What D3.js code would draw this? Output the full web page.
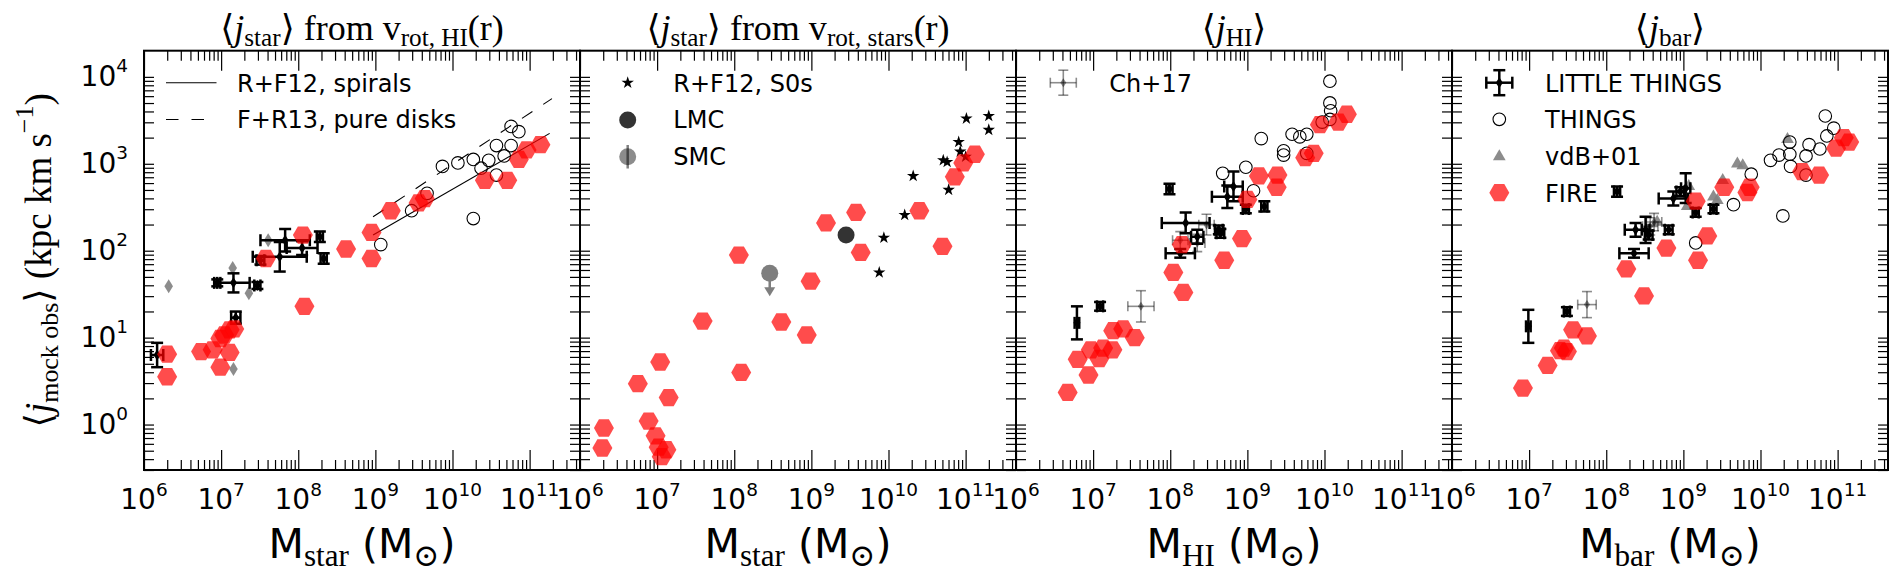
<!DOCTYPE html>
<html>
<head>
<meta charset="utf-8">
<script src="https://cdn.jsdelivr.net/npm/d3@7"></script>
<style>
  body { margin: 0; background: #fff; }
  svg { display: block; }
</style>
</head>
<body>
<script>
// values are log10(M / Msun), log10(j / kpc km s^-1); LT/Ch+17 rows add x and y errors in dex

// panel 1: <j_star> from v_rot,HI(r)
const fire1 = [[11.14,3.22],[10.96,3.16],[10.86,3.05],[10.71,2.81],[10.42,2.81],[9.64,2.60],[9.56,2.55],[9.20,2.46],
  [8.95,2.21],[8.95,1.91],[8.62,2.02],[8.06,2.18],[7.58,1.91],[8.08,1.36],[6.30,0.81],[6.30,0.55],[6.74,0.84],
  [6.89,0.86],[6.99,0.66],[7.11,0.83],[7.04,1.03],[6.99,0.99],[7.11,1.09],[7.17,1.10]];
const things1 = [[10.76,3.43],[10.86,3.37],[10.57,3.21],[10.76,3.21],[10.27,3.05],[10.47,3.04],[10.67,3.09],[10.07,3.01],
  [9.87,2.97],[10.37,2.95],[10.57,2.87],[9.67,2.66],[9.47,2.46],[10.27,2.37],[9.07,2.07]];
const vdb1 = [[7.61,2.12],[7.15,1.80],[6.32,1.59],[7.36,1.51],[7.16,0.64]];
const lt1 = [[6.17,0.80,0.08,0.14],[7.19,1.23,0.06,0.07],[7.16,1.63,0.21,0.11],[6.95,1.63,0.04,0.04],[7.47,1.60,0.04,0.04],
  [7.76,1.93,0.35,0.17],[7.51,1.89,0.05,0.05],[7.83,2.12,0.32,0.13],[8.05,2.03,0.20,0.08],[8.28,2.16,0.04,0.06],[8.33,1.91,0.04,0.06]];
const spirals = [[8.97,2.18],[11.26,3.35]];
const pureDisks = [[8.97,2.39],[11.29,3.75]];

// panel 2: <j_star> from v_rot,stars(r)
const s0s = [[11.30,3.55],[11.30,3.39],[11.01,3.52],[10.91,3.25],[10.93,3.14],[11.00,3.08],[10.71,3.04],[10.76,3.02],
  [10.32,2.86],[10.78,2.70],[10.21,2.41],[9.94,2.15],[9.88,1.75]];
const lmc = [[9.45,2.18]];
const smc = [[8.46,1.74]];
const fire2 = [[11.12,3.11],[10.97,3.01],[10.86,2.85],[10.40,2.46],[10.70,2.05],[9.58,2.44],[9.19,2.32],[9.64,1.98],
  [8.06,1.95],[8.99,1.65],[7.59,1.19],[8.61,1.18],[8.94,1.03],[8.09,0.60],[7.04,0.72],[6.75,0.47],[7.15,0.31],
  [6.31,-0.04],[6.29,-0.27],[6.89,0.04],[6.98,-0.13],[7.02,-0.26],[7.12,-0.29],[7.06,-0.37]];

// panel 3: <j_HI>
const things3 = [[10.07,3.95],[10.07,3.70],[10.08,3.61],[10.07,3.51],[9.97,3.48],[9.77,3.34],[9.68,3.31],[9.58,3.34],
  [9.47,3.15],[9.47,3.10],[9.77,3.12],[9.18,3.29],[8.98,2.96],[8.68,2.89],[9.08,2.69]];
const fire3 = [[10.29,3.57],[10.18,3.48],[9.94,3.45],[9.86,3.12],[9.75,3.07],[9.39,2.87],[9.15,2.86],[9.38,2.73],
  [9.00,2.59],[8.93,2.14],[8.70,1.89],[8.15,2.07],[8.04,1.75],[8.17,1.52],[7.26,1.08],[7.39,1.10],[7.54,1.00],
  [6.97,0.86],[7.13,0.88],[7.25,0.86],[7.08,0.76],[6.80,0.75],[6.94,0.57],[6.67,0.37]];
const lt3 = [[6.79,1.17,0.03,0.19],[7.09,1.36,0.04,0.05],[7.99,2.71,0.04,0.06],[8.20,2.32,0.31,0.12],[8.13,1.97,0.19,0.05],
  [8.35,2.16,0.08,0.08],[8.63,2.24,0.05,0.05],[8.65,2.20,0.05,0.05],[8.74,2.62,0.20,0.13],[8.82,2.74,0.12,0.17],
  [8.98,2.48,0.04,0.05],[9.22,2.51,0.04,0.06]];
const ch3 = [[8.47,2.30,0.10,0.12],[8.35,2.09,0.10,0.10],[7.62,1.36,0.17,0.18],[8.13,2.12,0.10,0.10]];

// panel 4: <j_bar>
const things4 = [[10.84,3.55],[10.95,3.41],[10.86,3.32],[10.77,3.17],[10.63,3.22],[10.59,3.09],[10.38,3.11],[10.38,3.25],
  [10.24,3.10],[10.13,3.04],[10.39,2.97],[10.59,2.87],[9.88,2.88],[9.65,2.53],[10.29,2.40],[9.16,2.09]];
const fire4 = [[11.15,3.25],[11.08,3.30],[10.98,3.18],[10.76,2.87],[10.54,2.91],[9.86,2.73],[9.83,2.67],[9.53,2.73],
  [9.16,2.57],[9.31,2.17],[9.19,1.89],[8.78,2.03],[8.26,1.79],[8.49,1.48],[7.57,1.09],[7.75,1.02],[7.45,0.88],
  [7.40,0.85],[7.49,0.84],[7.24,0.68],[6.92,0.42]];
const vdb4 = [[10.35,3.28],[9.70,3.00],[9.77,2.98],[9.51,2.81],[9.39,2.62],[9.44,2.58],[9.07,2.74],[9.05,2.51],[8.66,2.33]];
const lt4 = [[6.99,1.13,0.03,0.19],[7.49,1.30,0.04,0.05],[8.14,2.68,0.04,0.06],[8.36,1.97,0.19,0.05],[8.38,2.24,0.14,0.08],
  [8.51,2.24,0.05,0.15],[8.55,2.18,0.05,0.05],[8.81,2.24,0.05,0.05],[8.87,2.60,0.19,0.08],[9.03,2.72,0.06,0.17],
  [8.96,2.68,0.05,0.05],[9.16,2.44,0.04,0.05],[9.39,2.48,0.04,0.05]];
const ch4 = [[7.75,1.38,0.12,0.15],[8.57,2.28,0.10,0.10],[8.62,2.33,0.10,0.10]];

// axes
const xExp = [6, 7, 8, 9, 10, 11];
const yExp = [0, 1, 2, 3, 4];
const xDomain = [1e6, 4.5e11];
const yDomain = [0.3, 2e4];

// layout
const left0 = 144, panelW = 436, plotTop = 50.7, plotBottom = 470;
const sans = "'DejaVu Sans', sans-serif";
const serif = "'Liberation Serif', 'DejaVu Serif', serif";
const fireFill = "#ff0000", fireAlpha = 0.7;
const grey = "#808080";

const svg = d3.select("body").append("svg")
  .attr("width", 1903)
  .attr("height", 586)
  .attr("viewBox", [0, 0, 1903, 586]);

// text made of normal / italic / sub / sup pieces
function rich(sel, segs, size, family, ratio = 0.7) {
  let shift = 0;
  segs.forEach(([t, k, fam]) => {
    const small = k === "sub" || k === "sup";
    const target = k === "sub" ? size * 0.19 : k === "sup" ? -size * 0.48 : 0;
    sel.append("tspan")
      .attr("dy", target - shift)
      .attr("font-size", small ? size * ratio : size)
      .attr("font-family", fam || family)
      .attr("font-style", k === "i" ? "italic" : null)
      .text(t);
    shift = target;
  });
}

const hexPath = r => d3.range(6).map(i => {
  const a = i * Math.PI / 3;
  return (i ? "L" : "M") + (r * Math.cos(a)).toFixed(2) + "," + (r * Math.sin(a)).toFixed(2);
}).join("") + "Z";
const diamondPath = (w, h) => `M0,${-h}L${w},0L0,${h}L${-w},0Z`;

const panels = [
  { title: [["⟨", "n"], ["j", "i"], ["star", "sub"], ["⟩ from v", "n"], ["rot, HI", "sub"], ["(r)", "n"]], xsub: "star" },
  { title: [["⟨", "n"], ["j", "i"], ["star", "sub"], ["⟩ from v", "n"], ["rot, stars", "sub"], ["(r)", "n"]], xsub: "star" },
  { title: [["⟨", "n"], ["j", "i"], ["HI", "sub"], ["⟩", "n"]], xsub: "HI" },
  { title: [["⟨", "n"], ["j", "i"], ["bar", "sub"], ["⟩", "n"]], xsub: "bar" }
];

const y = d3.scaleLog().domain(yDomain).range([plotBottom, plotTop]);

const xMinor = [], yMinor = [];
for (let e = 6; e <= 11; e++) for (let m = 2; m <= 9; m++) if (m * 10 ** e < xDomain[1]) xMinor.push(m * 10 ** e);
for (let e = -1; e <= 4; e++) for (let m = 2; m <= 9; m++) {
  const v = m * 10 ** e;
  if (v >= yDomain[0] && v < yDomain[1]) yMinor.push(v);
}

panels.forEach((p, i) => {
  const left = left0 + i * panelW;
  const x = d3.scaleLog().domain(xDomain).range([left, left + panelW]);
  p.x = x;
  const g = svg.append("g");

  svg.append("clipPath").attr("id", "clip" + i)
    .append("rect").attr("x", left).attr("y", plotTop).attr("width", panelW).attr("height", plotBottom - plotTop);
  p.plot = svg.append("g").attr("clip-path", `url(#clip${i})`);

  // ticks on all four sides, pointing inwards
  const tickStyle = a => {
    a.select(".domain").remove();
    a.selectAll("line").attr("stroke", "#000").attr("stroke-width", 1.2);
  };
  const xMajor = xExp.map(e => 10 ** e);
  const yTicks = yExp.map(e => 10 ** e).concat(yMinor);
  g.append("g").attr("transform", `translate(0,${plotBottom})`)
    .call(d3.axisBottom(x).tickValues(xMajor).tickSize(-20).tickFormat(""))
    .call(tickStyle);
  g.append("g").attr("transform", `translate(0,${plotBottom})`)
    .call(d3.axisBottom(x).tickValues(xMinor).tickSize(-10).tickFormat(""))
    .call(tickStyle);
  g.append("g").attr("transform", `translate(0,${plotTop})`)
    .call(d3.axisTop(x).tickValues(xMajor).tickSize(-20).tickFormat(""))
    .call(tickStyle);
  g.append("g").attr("transform", `translate(0,${plotTop})`)
    .call(d3.axisTop(x).tickValues(xMinor).tickSize(-10).tickFormat(""))
    .call(tickStyle);
  g.append("g").attr("transform", `translate(${left},0)`)
    .call(d3.axisLeft(y).tickValues(yTicks).tickSize(-10).tickFormat(""))
    .call(tickStyle);
  g.append("g").attr("transform", `translate(${left + panelW},0)`)
    .call(d3.axisRight(y).tickValues(yTicks).tickSize(-10).tickFormat(""))
    .call(tickStyle);

  g.append("rect")
    .attr("x", left).attr("y", plotTop)
    .attr("width", panelW).attr("height", plotBottom - plotTop)
    .attr("fill", "none").attr("stroke", "#000").attr("stroke-width", 2);

  // x tick labels
  xExp.forEach(e => {
    const t = svg.append("text")
      .attr("x", x(10 ** e)).attr("y", 509)
      .attr("text-anchor", "middle").attr("fill", "#000");
    rich(t, [["10", "n"], [String(e), "sup"]], 28, sans, 0.66);
  });

  // title
  const tt = svg.append("text")
    .attr("x", left + panelW / 2).attr("y", 39.5)
    .attr("text-anchor", "middle").attr("fill", "#000");
  rich(tt, p.title, 36, serif);

  // x label
  const xl = svg.append("text")
    .attr("x", left + panelW / 2).attr("y", 558)
    .attr("text-anchor", "middle").attr("fill", "#000");
  rich(xl, [["M", "n", sans], [p.xsub, "sub"], [" (M", "n", sans], ["⊙", "sub"], [")", "n", sans]], 41, serif, 0.76);
});

// y tick labels and label (first panel only)
yExp.forEach(e => {
  const t = svg.append("text")
    .attr("x", 128).attr("y", y(10 ** e) + 9)
    .attr("text-anchor", "end").attr("fill", "#000");
  rich(t, [["10", "n"], [String(e), "sup"]], 28, sans, 0.66);
});
const yl = svg.append("text")
  .attr("transform", `translate(51,${(plotTop + plotBottom) / 2}) rotate(-90)`)
  .attr("text-anchor", "middle").attr("fill", "#000");
rich(yl, [["⟨", "n"], ["j", "i"], ["mock obs", "sub"], ["⟩ (kpc km s", "n"], ["−1", "sup"], [")", "n"]], 37, serif);

// ---- marker helpers
const px = (p, d) => [p.x(10 ** d[0]), y(10 ** d[1])];

function hexes(p, data) {
  p.plot.append("g").selectAll("path").data(data).join("path")
    .attr("d", hexPath(10))
    .attr("transform", d => `translate(${px(p, d)})`)
    .attr("fill", fireFill).attr("fill-opacity", fireAlpha);
}
function circles(p, data) {
  p.plot.append("g").selectAll("circle").data(data).join("circle")
    .attr("cx", d => px(p, d)[0]).attr("cy", d => px(p, d)[1]).attr("r", 6.3)
    .attr("fill", "none").attr("stroke", "#000").attr("stroke-width", 1.1);
}
function shapes(p, data, path, fill, op) {
  p.plot.append("g").selectAll("path").data(data).join("path")
    .attr("d", path)
    .attr("transform", d => `translate(${px(p, d)})`)
    .attr("fill", fill).attr("fill-opacity", op);
}
function errs(p, data, color, op, lw, cap, mw, mh) {
  const g = p.plot.append("g").attr("stroke", color).attr("stroke-opacity", op).attr("stroke-width", lw);
  data.forEach(d => {
    const [cx, cy] = px(p, d);
    const x0 = p.x(10 ** (d[0] - d[2])), x1 = p.x(10 ** (d[0] + d[2]));
    const y0 = y(10 ** (d[1] - d[3])), y1 = y(10 ** (d[1] + d[3]));
    g.append("line").attr("x1", x0).attr("x2", x1).attr("y1", cy).attr("y2", cy);
    g.append("line").attr("x1", cx).attr("x2", cx).attr("y1", y0).attr("y2", y1);
    [x0, x1].forEach(xx => g.append("line").attr("x1", xx).attr("x2", xx).attr("y1", cy - cap).attr("y2", cy + cap));
    [y0, y1].forEach(yy => g.append("line").attr("x1", cx - cap).attr("x2", cx + cap).attr("y1", yy).attr("y2", yy));
    g.append("path").attr("d", diamondPath(mw, mh)).attr("transform", `translate(${cx},${cy})`)
      .attr("stroke", "none").attr("fill", color).attr("fill-opacity", op);
  });
}
function line(p, data, dash) {
  p.plot.append("path")
    .attr("d", d3.line().x(d => p.x(10 ** d[0])).y(d => y(10 ** d[1]))(data))
    .attr("fill", "none").attr("stroke", "#000").attr("stroke-width", 1.1)
    .attr("stroke-dasharray", dash);
}

const triPath = d3.symbol(d3.symbolTriangle, 70)();
const starPath = d3.symbol(d3.symbolStar, 48)();
const [P1, P2, P3, P4] = panels;

// panel 1
line(P1, spirals, null);
line(P1, pureDisks, "12.5,13");
shapes(P1, vdb1, diamondPath(4.3, 7), grey, 0.9);
circles(P1, things1);
errs(P1, lt1, "#000", 1, 2.5, 6, 3.5, 5.5);
hexes(P1, fire1);

// panel 2
shapes(P2, s0s, starPath, "#000", 1);
shapes(P2, lmc, d3.symbol(d3.symbolCircle, Math.PI * 8.5 * 8.5)(), "#000", 0.8);
smc.forEach(d => {
  const [cx, cy] = px(P2, d);
  const g = P2.plot.append("g").attr("transform", `translate(${cx},${cy})`).attr("opacity", 0.5);
  g.append("circle").attr("r", 8.5).attr("fill", "#000");
  g.append("line").attr("y1", 0).attr("y2", 16).attr("stroke", "#000").attr("stroke-width", 2.5);
  g.append("path").attr("d", "M-5.5,14L5.5,14L0,23Z").attr("fill", "#000");
});
hexes(P2, fire2);

// panel 3
circles(P3, things3);
errs(P3, ch3, "#000", 0.45, 1.6, 5, 3, 4.5);
errs(P3, lt3, "#000", 1, 2.5, 6, 3.5, 5.5);
hexes(P3, fire3);

// panel 4
shapes(P4, vdb4, triPath, grey, 0.9);
circles(P4, things4);
errs(P4, ch4, "#000", 0.45, 1.6, 5, 3, 4.5);
errs(P4, lt4, "#000", 1, 2.5, 6, 3.5, 5.5);
hexes(P4, fire4);

// ---- legends
const legText = (xx, yy, s) => svg.append("text").attr("x", xx).attr("y", yy)
  .attr("font-family", sans).attr("font-size", 24).attr("fill", "#000").text(s);

// panel 1
svg.append("line").attr("x1", 166).attr("x2", 216.5).attr("y1", 82.7).attr("y2", 82.7)
  .attr("stroke", "#000").attr("stroke-width", 1.1);
svg.append("line").attr("x1", 166).attr("x2", 216.5).attr("y1", 119.5).attr("y2", 119.5)
  .attr("stroke", "#000").attr("stroke-width", 1.1).attr("stroke-dasharray", "12.5,13");
legText(237, 91.7, "R+F12, spirals");
legText(237, 128.3, "F+R13, pure disks");

// panel 2
svg.append("path").attr("d", starPath).attr("transform", "translate(627.7,82.7)").attr("fill", "#000");
svg.append("circle").attr("cx", 627.7).attr("cy", 120).attr("r", 8.5).attr("fill", "#000").attr("fill-opacity", 0.8);
svg.append("circle").attr("cx", 627.7).attr("cy", 156.7).attr("r", 8.5).attr("fill", "#000").attr("fill-opacity", 0.45);
svg.append("line").attr("x1", 627.7).attr("x2", 627.7).attr("y1", 145).attr("y2", 168.5)
  .attr("stroke", "#000").attr("stroke-opacity", 0.5).attr("stroke-width", 2.5);
legText(673.3, 91.7, "R+F12, S0s");
legText(673.3, 128.3, "LMC");
legText(673.3, 165, "SMC");

// legend errorbar marker
function legErr(cx, cy, color, op, lw, cap, mw, mh) {
  const g = svg.append("g").attr("stroke", color).attr("stroke-opacity", op).attr("stroke-width", lw);
  g.append("line").attr("x1", cx - 13).attr("x2", cx + 13).attr("y1", cy).attr("y2", cy);
  g.append("line").attr("x1", cx).attr("x2", cx).attr("y1", cy - 12.5).attr("y2", cy + 12.5);
  [cx - 13, cx + 13].forEach(xx => g.append("line").attr("x1", xx).attr("x2", xx).attr("y1", cy - cap).attr("y2", cy + cap));
  [cy - 12.5, cy + 12.5].forEach(yy => g.append("line").attr("x1", cx - cap).attr("x2", cx + cap).attr("y1", yy).attr("y2", yy));
  g.append("path").attr("d", diamondPath(mw, mh)).attr("transform", `translate(${cx},${cy})`)
    .attr("stroke", "none").attr("fill", color).attr("fill-opacity", op);
}

// panel 3
legErr(1063.3, 82.7, "#000", 0.45, 1.6, 5, 3, 4.5);
legText(1109.3, 91.7, "Ch+17");

// panel 4
legErr(1499.3, 82.7, "#000", 1, 2.5, 6, 3.5, 5.5);
svg.append("circle").attr("cx", 1499.3).attr("cy", 119.3).attr("r", 6.3)
  .attr("fill", "none").attr("stroke", "#000").attr("stroke-width", 1.1);
svg.append("path").attr("d", triPath).attr("transform", "translate(1499.3,156.5)").attr("fill", grey).attr("fill-opacity", 0.9);
svg.append("path").attr("d", hexPath(10)).attr("transform", "translate(1499.3,192.7)")
  .attr("fill", fireFill).attr("fill-opacity", fireAlpha);
legText(1545, 91.7, "LITTLE THINGS");
legText(1545, 128.3, "THINGS");
legText(1545, 165, "vdB+01");
legText(1545, 201.7, "FIRE");
</script>
</body>
</html>
